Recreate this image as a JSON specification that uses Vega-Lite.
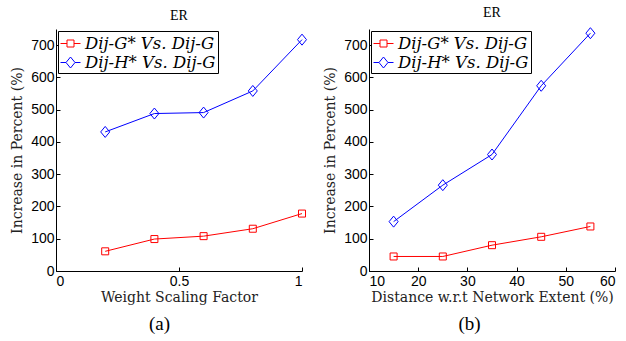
{
  "$schema": "https://vega.github.io/schema/vega-lite/v6.json",
  "background": "white",
  "padding": {"left": 10, "top": 5, "right": 5, "bottom": 5},
  "datasets": {
    "a": [
      {"x": 0.2, "s": "Dij-G* Vs. Dij-G", "y": 61},
      {"x": 0.4, "s": "Dij-G* Vs. Dij-G", "y": 99},
      {"x": 0.6, "s": "Dij-G* Vs. Dij-G", "y": 108},
      {"x": 0.8, "s": "Dij-G* Vs. Dij-G", "y": 131},
      {"x": 1.0, "s": "Dij-G* Vs. Dij-G", "y": 178},
      {"x": 0.2, "s": "Dij-H* Vs. Dij-G", "y": 431},
      {"x": 0.4, "s": "Dij-H* Vs. Dij-G", "y": 488},
      {"x": 0.6, "s": "Dij-H* Vs. Dij-G", "y": 491},
      {"x": 0.8, "s": "Dij-H* Vs. Dij-G", "y": 558},
      {"x": 1.0, "s": "Dij-H* Vs. Dij-G", "y": 717}
    ],
    "b": [
      {"x": 15, "s": "Dij-G* Vs. Dij-G", "y": 45},
      {"x": 25, "s": "Dij-G* Vs. Dij-G", "y": 45},
      {"x": 35, "s": "Dij-G* Vs. Dij-G", "y": 80},
      {"x": 45, "s": "Dij-G* Vs. Dij-G", "y": 106},
      {"x": 55, "s": "Dij-G* Vs. Dij-G", "y": 138},
      {"x": 15, "s": "Dij-H* Vs. Dij-G", "y": 153},
      {"x": 25, "s": "Dij-H* Vs. Dij-G", "y": 266},
      {"x": 35, "s": "Dij-H* Vs. Dij-G", "y": 361},
      {"x": 45, "s": "Dij-H* Vs. Dij-G", "y": 574},
      {"x": 55, "s": "Dij-H* Vs. Dij-G", "y": 737}
    ]
  },
  "config": {
    "view": {"stroke": null},
    "axis": {
      "domainColor": "black",
      "tickColor": "black",
      "grid": false,
      "labelFont": "Liberation Sans",
      "labelFontSize": 14,
      "labelColor": "black",
      "tickSize": -4,
      "labelPadding": 7
    },
    "title": {"font": "Liberation Serif", "fontWeight": "normal", "color": "black"},
    "legend": {
      "orient": "top-left",
      "offset": 2,
      "strokeColor": "black",
      "fillColor": "white",
      "padding": 2,
      "rowPadding": -2,
      "labelFont": "DejaVu Serif",
      "labelFontStyle": "italic",
      "labelFontSize": 16.5,
      "labelColor": "black",
      "symbolSize": 400,
      "symbolStrokeWidth": 1
    }
  },
  "spacing": 14,
  "hconcat": [
    {
      "title": {"text": "(a)", "orient": "bottom", "fontSize": 19, "offset": 11, "anchor": "middle", "font": "Liberation Serif"},
      "vconcat": [
        {
          "title": {"text": "ER", "fontSize": 14, "offset": 6},
          "width": 246,
          "height": 242,
          "data": {"name": "a"},
          "encoding": {
            "x": {"field": "x", "type": "quantitative", "scale": {"domain": [0, 1], "nice": false}, "axis": {"values": [0, 0.5, 1], "format": "~g", "title": "Weight Scaling Factor", "titlePadding": 2, "titleFont": "DejaVu Serif", "titleFontSize": 14, "titleFontWeight": "normal", "titleColor": "#222"}},
            "y": {"field": "y", "type": "quantitative", "scale": {"domain": [0, 750], "nice": false}, "axis": {"values": [0, 100, 200, 300, 400, 500, 600, 700], "labelPadding": 6, "title": "Increase in Percent (%)", "titlePadding": 6, "titleFont": "DejaVu Serif", "titleFontSize": 14, "titleFontWeight": "normal", "titleColor": "#222"}},
            "color": {"field": "s", "type": "nominal", "scale": {"domain": ["Dij-G* Vs. Dij-G", "Dij-H* Vs. Dij-G"], "range": ["#ff0000", "#0000ff"]}, "legend": {"title": null, "labelFont": "DejaVu Serif", "labelFontStyle": "italic", "encode": {"symbols": {"update": {"shape": {"signal": "datum.index == 0 ? 'M-1,0H-0.35M0.35,0H1M-0.35,-0.35H0.35V0.35H-0.35Z' : 'M-1,0H-0.45M0.45,0H1M0,-0.55L0.45,0L0,0.55L-0.45,0Z'"}, "stroke": {"signal": "datum.index == 0 ? '#ff0000' : '#0000ff'"}, "fill": {"value": "transparent"}, "strokeWidth": {"value": 1}}}}}}
          },
          "layer": [
            {"mark": {"type": "line", "strokeWidth": 1}},
            {"mark": {"type": "point", "filled": false, "strokeWidth": 1, "opacity": 1}, "encoding": {"shape": {"field": "s", "type": "nominal", "scale": {"domain": ["Dij-G* Vs. Dij-G", "Dij-H* Vs. Dij-G"], "range": ["square", "M0,-1.57L1.29,0L0,1.57L-1.29,0Z"]}, "legend": null}, "size": {"value": 49}}}
          ]
        }
      ]
    },
    {
      "title": {"text": "(b)", "orient": "bottom", "fontSize": 19, "offset": 11, "anchor": "middle", "font": "Liberation Serif"},
      "vconcat": [
        {
          "title": {"text": "ER", "fontSize": 14, "offset": 6},
          "width": 246,
          "height": 242,
          "data": {"name": "b"},
          "encoding": {
            "x": {"field": "x", "type": "quantitative", "scale": {"domain": [10, 60], "nice": false}, "axis": {"values": [10, 20, 30, 40, 50, 60], "title": "Distance w.r.t Network Extent (%)", "titlePadding": 2, "titleFont": "DejaVu Serif", "titleFontSize": 14, "titleFontWeight": "normal", "titleColor": "#222"}},
            "y": {"field": "y", "type": "quantitative", "scale": {"domain": [0, 750], "nice": false}, "axis": {"values": [0, 100, 200, 300, 400, 500, 600, 700], "labelPadding": 6, "title": "Increase in Percent (%)", "titlePadding": 6, "titleFont": "DejaVu Serif", "titleFontSize": 14, "titleFontWeight": "normal", "titleColor": "#222"}},
            "color": {"field": "s", "type": "nominal", "scale": {"domain": ["Dij-G* Vs. Dij-G", "Dij-H* Vs. Dij-G"], "range": ["#ff0000", "#0000ff"]}, "legend": {"title": null, "labelFont": "DejaVu Serif", "labelFontStyle": "italic", "encode": {"symbols": {"update": {"shape": {"signal": "datum.index == 0 ? 'M-1,0H-0.35M0.35,0H1M-0.35,-0.35H0.35V0.35H-0.35Z' : 'M-1,0H-0.45M0.45,0H1M0,-0.55L0.45,0L0,0.55L-0.45,0Z'"}, "stroke": {"signal": "datum.index == 0 ? '#ff0000' : '#0000ff'"}, "fill": {"value": "transparent"}, "strokeWidth": {"value": 1}}}}}}
          },
          "layer": [
            {"mark": {"type": "line", "strokeWidth": 1}},
            {"mark": {"type": "point", "filled": false, "strokeWidth": 1, "opacity": 1}, "encoding": {"shape": {"field": "s", "type": "nominal", "scale": {"domain": ["Dij-G* Vs. Dij-G", "Dij-H* Vs. Dij-G"], "range": ["square", "M0,-1.57L1.29,0L0,1.57L-1.29,0Z"]}, "legend": null}, "size": {"value": 49}}}
          ]
        }
      ]
    }
  ],
  "resolve": {"legend": {"color": "independent"}}
}
